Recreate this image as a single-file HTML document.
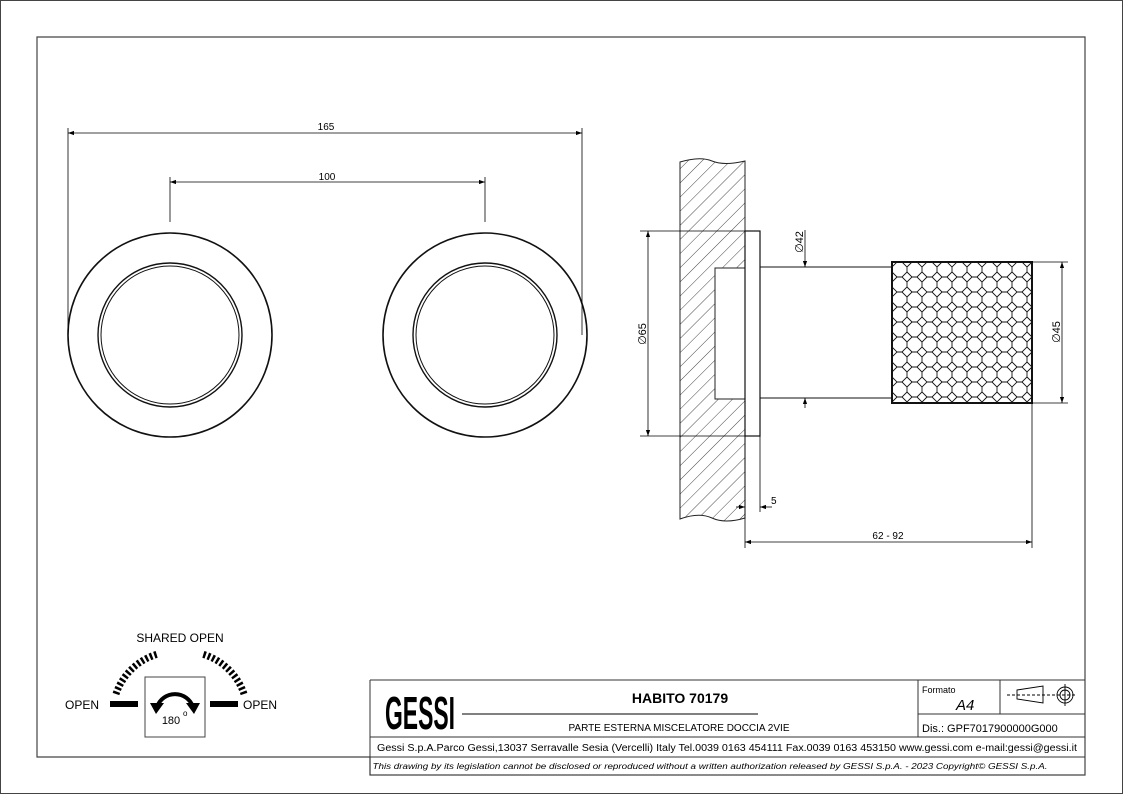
<!DOCTYPE html>
<html><head><meta charset="utf-8"><style>
html,body{margin:0;padding:0;background:#fff}
svg{display:block}
text{font-family:"Liberation Sans",sans-serif;fill:#000}
</style></head><body>
<svg width="1123" height="794" viewBox="0 0 1123 794" xmlns="http://www.w3.org/2000/svg">
<defs>
<pattern id="hatch" width="10" height="10" patternUnits="userSpaceOnUse" patternTransform="rotate(45)">
<line x1="0" y1="0" x2="0" y2="10" stroke="#333" stroke-width="0.9"/>
</pattern>
<pattern id="knurl" x="892" y="262" width="30" height="30" patternUnits="userSpaceOnUse">
<g fill="none" stroke="#111" stroke-width="0.9">
<path d="M0,-5 L5,0 L0,5 L-5,0Z M30,-5 L35,0 L30,5 L25,0Z M0,25 L5,30 L0,35 L-5,30Z M30,25 L35,30 L30,35 L25,30Z M15,10 L20,15 L15,20 L10,15Z"/>
<path d="M5,0 L10,0 L15,5 L15,10 M25,0 L20,0 L15,5 M0,5 L0,10 L5,15 L10,15 M0,25 L0,20 L5,15 M20,15 L25,15 L30,10 L30,5 M25,15 L30,20 L30,25 M15,20 L15,25 L10,30 L5,30 M15,25 L20,30 L25,30"/>
</g>
</pattern>
<marker id="ar" viewBox="0 0 10 10" refX="10" refY="5" markerWidth="9" markerHeight="6" orient="auto-start-reverse" markerUnits="userSpaceOnUse"><path d="M0,1.5 L10,5 L0,8.5Z" fill="#000"/></marker>
</defs>
<rect x="0.5" y="0.5" width="1122" height="793" fill="none" stroke="#444"/>
<path d="M370,757 H37 V37 H1085 V775 H370 Z" fill="none" stroke="#444" stroke-width="1.2"/>

<g fill="none" stroke="#111">
<circle cx="170" cy="335" r="102" stroke-width="1.6"/>
<circle cx="170" cy="335" r="72" stroke-width="1.4"/>
<circle cx="170" cy="335" r="69" stroke-width="1"/>
<circle cx="485" cy="335" r="102" stroke-width="1.6"/>
<circle cx="485" cy="335" r="72" stroke-width="1.4"/>
<circle cx="485" cy="335" r="69" stroke-width="1"/>
</g>
<g stroke="#000" stroke-width="0.8" fill="none">
<line x1="68" y1="128" x2="68" y2="335"/>
<line x1="582" y1="128" x2="582" y2="335"/>
<line x1="68" y1="133" x2="582" y2="133" marker-start="url(#ar)" marker-end="url(#ar)"/>
<line x1="170" y1="177" x2="170" y2="222"/>
<line x1="485" y1="177" x2="485" y2="222"/>
<line x1="170" y1="182" x2="485" y2="182" marker-start="url(#ar)" marker-end="url(#ar)"/>
</g>
<text x="326" y="130" font-size="10" text-anchor="middle">165</text>
<text x="327" y="180" font-size="10" text-anchor="middle">100</text>

<path d="M680,162 Q700,156 712,161 T745,161 V518 Q725,524 712,518 T680,519 Z M715,268 H745 V399 H715 Z" fill="url(#hatch)" fill-rule="evenodd" stroke="#222" stroke-width="1"/>
<rect x="745" y="231" width="15" height="205" fill="#fff" stroke="#111" stroke-width="1.2"/>
<g stroke="#111" stroke-width="1" fill="none">
<line x1="760" y1="267" x2="892" y2="267"/>
<line x1="760" y1="398" x2="892" y2="398"/>
</g>
<rect x="892" y="262" width="140" height="141" fill="url(#knurl)" stroke="#111" stroke-width="2"/>
<g stroke="#000" stroke-width="0.8" fill="none">
<line x1="640" y1="231" x2="745" y2="231"/>
<line x1="640" y1="436" x2="745" y2="436"/>
<line x1="648" y1="231" x2="648" y2="436" marker-start="url(#ar)" marker-end="url(#ar)"/>
<line x1="805" y1="230" x2="805" y2="267" marker-end="url(#ar)"/>
<line x1="805" y1="408" x2="805" y2="398" marker-end="url(#ar)"/>
<line x1="1032" y1="262" x2="1068" y2="262"/>
<line x1="1032" y1="403" x2="1068" y2="403"/>
<line x1="1062" y1="262" x2="1062" y2="403" marker-start="url(#ar)" marker-end="url(#ar)"/>
<line x1="745" y1="436" x2="745" y2="548"/>
<line x1="760" y1="436" x2="760" y2="512"/>
<line x1="1032" y1="403" x2="1032" y2="548"/>
<line x1="736" y1="507" x2="745" y2="507" marker-end="url(#ar)"/>
<line x1="772" y1="507" x2="760" y2="507" marker-end="url(#ar)"/>
<line x1="745" y1="542" x2="1032" y2="542" marker-start="url(#ar)" marker-end="url(#ar)"/>
</g>
<text x="771" y="504" font-size="10">5</text>
<text x="888" y="539" font-size="10" text-anchor="middle">62 - 92</text>
<text font-size="11" text-anchor="middle" transform="translate(646,334) rotate(-90)">∅65</text>
<text font-size="11" text-anchor="middle" transform="translate(803,242) rotate(-90)">∅42</text>
<text font-size="11" text-anchor="middle" transform="translate(1060,332) rotate(-90)">∅45</text>

<text x="180" y="642" font-size="12" text-anchor="middle">SHARED OPEN</text>
<text x="65" y="709" font-size="12">OPEN</text>
<text x="243" y="709" font-size="12">OPEN</text>
<rect x="110" y="701" width="28" height="6" fill="#000"/>
<rect x="210" y="701" width="28" height="6" fill="#000"/>
<path d="M116,694 A62,62 0 0 1 158,654" fill="none" stroke="#000" stroke-width="7" stroke-dasharray="2.5 2.2"/>
<path d="M244,694 A62,62 0 0 0 202,654" fill="none" stroke="#000" stroke-width="7" stroke-dasharray="2.5 2.2"/>
<rect x="145" y="677" width="60" height="60" fill="#fff" stroke="#444"/>
<path d="M157,707 A19,19 0 0 1 193,707" fill="none" stroke="#000" stroke-width="4"/>
<path d="M150,703 L164,703 L156,714Z M186,703 L200,703 L194,714Z" fill="#000"/>
<text x="171" y="724" font-size="11" text-anchor="middle">180</text>
<text x="183" y="716" font-size="8">o</text>

<g stroke="#333" stroke-width="1" fill="none">
<line x1="370" y1="680" x2="1085" y2="680"/>
<line x1="370" y1="680" x2="370" y2="775"/>
<line x1="370" y1="737" x2="1085" y2="737"/>
<line x1="370" y1="757" x2="1085" y2="757"/>
<line x1="918" y1="680" x2="918" y2="737"/>
<line x1="918" y1="714" x2="1085" y2="714"/>
<line x1="1000" y1="680" x2="1000" y2="714"/>
<line x1="462" y1="714" x2="758" y2="714" stroke="#000"/>
</g>
<text x="0" y="0" font-size="32" font-weight="bold" textLength="70" lengthAdjust="spacingAndGlyphs" transform="translate(385,729) scale(1,1.45)">GESSI</text>
<text x="680" y="703" font-size="14" font-weight="bold" text-anchor="middle">HABITO 70179</text>
<text x="679" y="731" font-size="10" text-anchor="middle">PARTE ESTERNA MISCELATORE DOCCIA 2VIE</text>
<text x="922" y="693" font-size="9">Formato</text>
<text x="956" y="710" font-size="15" font-style="italic">A4</text>
<text x="922" y="732" font-size="11">Dis.: GPF7017900000G000</text>
<text x="727" y="751" font-size="10" text-anchor="middle" textLength="700" lengthAdjust="spacingAndGlyphs">Gessi S.p.A.Parco Gessi,13037 Serravalle Sesia (Vercelli) Italy Tel.0039 0163 454111 Fax.0039 0163 453150 www.gessi.com e-mail:gessi@gessi.it</text>
<text x="710" y="769" font-size="8" font-style="italic" text-anchor="middle" textLength="675" lengthAdjust="spacingAndGlyphs">This drawing by its legislation cannot be disclosed or reproduced without a written authorization released by GESSI S.p.A. - 2023 Copyright© GESSI S.p.A.</text>
<g stroke="#000" stroke-width="0.9" fill="none">
<path d="M1017,690 L1043,686 V703 L1017,699Z"/>
<line x1="1007" y1="695" x2="1075" y2="695" stroke-dasharray="3 2"/>
<circle cx="1065" cy="695" r="8"/>
<circle cx="1065" cy="695" r="5"/>
<line x1="1065" y1="684" x2="1065" y2="706"/>
</g>
</svg>
</body></html>
